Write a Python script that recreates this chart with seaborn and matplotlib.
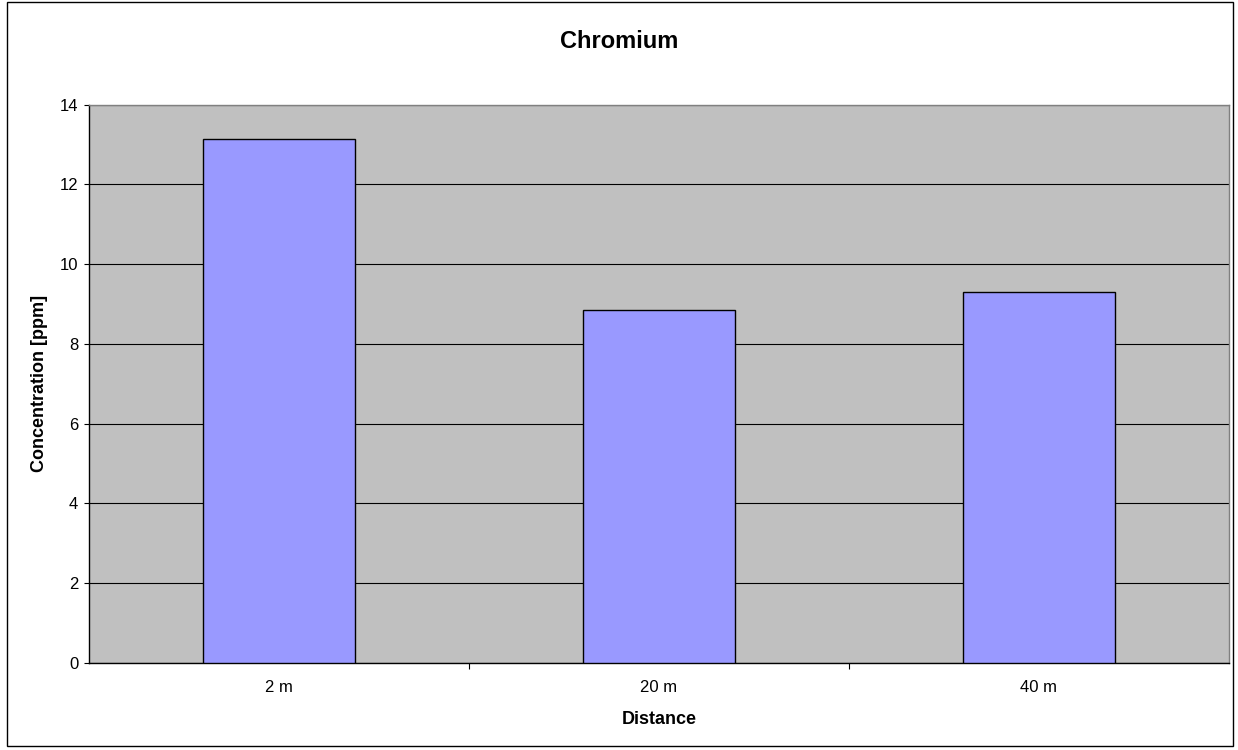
import matplotlib
matplotlib.use("Agg")
import matplotlib.pyplot as plt
import matplotlib.patches as mpatches
import seaborn as sns
import pandas as pd

# Chromium concentration by sampling distance
distances = ["2 m", "20 m", "40 m"]
concentration = [13.14, 8.86, 9.30]
y_ticks = [0, 2, 4, 6, 8, 10, 12, 14]

df = pd.DataFrame({"Distance": distances, "Concentration": concentration})

sns.set_theme(style="white")
plt.rcParams["font.family"] = ["Liberation Sans", "DejaVu Sans"]
plt.rcParams["text.color"] = "black"
plt.rcParams["axes.labelcolor"] = "black"
plt.rcParams["xtick.color"] = "black"
plt.rcParams["ytick.color"] = "black"

fig = plt.figure(figsize=(12.38, 7.5), dpi=100)
ax = fig.add_axes([0.0721, 0.1164, 0.9204, 0.744])

sns.barplot(data=df, x="Distance", y="Concentration", ax=ax,
            color="#9999ff", saturation=1, width=0.4,
            edgecolor="black", linewidth=1.0, zorder=3)

ax.set_facecolor("#c0c0c0")
ax.set_ylim(0, 14)
ax.set_xlim(-0.5, len(distances) - 0.5)
ax.set_yticks(y_ticks)
ax.set_yticklabels([str(t) for t in y_ticks])
ax.yaxis.grid(True, color="black", linewidth=0.8, zorder=1)
ax.set_axisbelow(True)

# category boundary ticks on the x axis
ax.set_xticks([i + 0.5 for i in range(len(distances) - 1)], minor=True)
ax.tick_params(axis="x", which="major", length=0, pad=12.5, labelsize=12)
ax.tick_params(axis="x", which="minor", length=4, width=0.8, color="black",
               direction="out", bottom=True)
ax.tick_params(axis="y", which="major", length=3.5, width=0.8, color="black",
               direction="out", left=True, pad=4.5, labelsize=12)

for side in ["left", "bottom"]:
    ax.spines[side].set_color("black")
    ax.spines[side].set_linewidth(1.0)
for side in ["top", "right"]:
    ax.spines[side].set_color("#808080")
    ax.spines[side].set_linewidth(1.0)

ax.set_xlabel("Distance", fontsize=13, fontweight="bold")
ax.set_ylabel("Concentration [ppm]", fontsize=13, fontweight="bold")
ax.xaxis.set_label_coords(0.5, -0.101)
ax.xaxis.label.set_va("center")
ax.yaxis.set_label_coords(-0.044, 0.5)
ax.yaxis.label.set_va("center")

fig.text(0.5, 1 - 41 / 750, "Chromium", ha="center", va="center",
         fontsize=17, fontweight="bold")

# outer chart frame
fig.patches.append(mpatches.Rectangle((0.0057, 0.006), 0.9905, 0.9915,
                                      transform=fig.transFigure, fill=False,
                                      edgecolor="black", linewidth=1.0))

fig.savefig("out.png", dpi=100)
